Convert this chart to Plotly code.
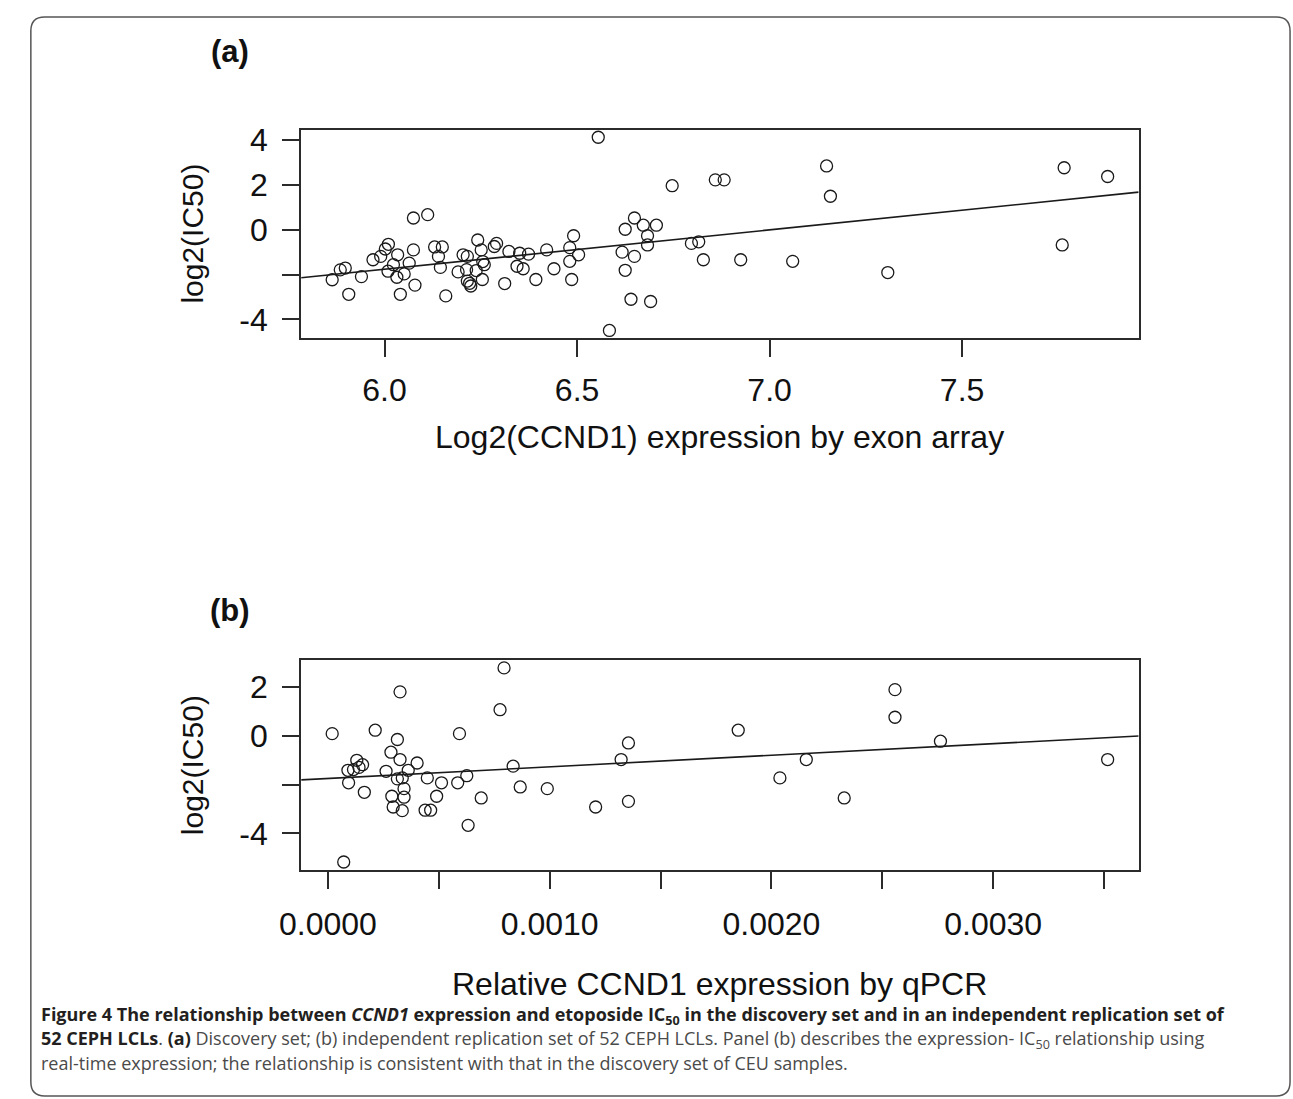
import numpy as np
import plotly.graph_objects as go

W, H = 1293, 1099

# ---------------- Data ----------------
# Panel (a): discovery set, Log2(CCND1) exon-array expression vs log2(IC50)
exon_expr = [6.555, 6.075, 6.112, 6.010, 6.002, 5.970, 5.990, 6.034, 6.023, 6.009,
             6.032, 6.051, 6.064, 6.075, 6.079, 6.041, 5.885, 5.898, 5.864, 5.907,
             5.940, 6.130, 6.150, 6.140, 6.145, 6.159, 6.191, 6.204, 6.215, 6.213,
             6.215, 6.224, 6.238, 6.242, 6.251, 6.259, 6.254, 6.285, 6.291, 6.312,
             6.323, 6.344, 6.351, 6.360, 6.374, 6.393, 6.421, 6.440, 6.481, 6.491,
             6.504, 6.481, 6.486, 6.584, 6.649, 6.625, 6.672, 6.706, 6.683, 6.683,
             6.617, 6.649, 6.625, 6.640, 6.691, 6.747, 6.859, 6.882, 7.148, 7.158,
             6.797, 6.816, 6.828, 6.925, 7.060, 7.765, 7.878, 7.760, 7.307, 6.255,
             6.221]
exon_ic50 = [4.12, 0.52, 0.67, -0.65, -0.86, -1.34, -1.19, -1.12, -1.56, -1.85,
             -2.12, -1.97, -1.49, -0.90, -2.47, -2.88, -1.79, -1.71, -2.23, -2.88,
             -2.09, -0.77, -0.77, -1.19, -1.68, -2.95, -1.88, -1.12, -1.19, -1.78,
             -2.29, -2.51, -1.82, -0.46, -0.90, -1.56, -2.22, -0.75, -0.61, -2.40,
             -0.97, -1.63, -1.05, -1.74, -1.09, -2.22, -0.90, -1.74, -0.80, -0.27,
             -1.12, -1.41, -2.22, -4.49, 0.52, 0.02, 0.20, 0.20, -0.27, -0.68,
             -1.00, -1.19, -1.81, -3.10, -3.20, 1.96, 2.22, 2.22, 2.84, 1.49,
             -0.61, -0.54, -1.34, -1.34, -1.41, 2.76, 2.37, -0.68, -1.91, -1.42,
             -2.39]

# Panel (b): replication set, relative CCND1 qPCR expression vs log2(IC50)
qpcr_expr = [0.000794, 0.000325, 0.000776, 0.000019, 0.000213, 0.000593, 0.000313,
             0.000284, 0.000325, 0.000402, 0.000362, 0.000130, 0.000156, 0.000115,
             0.000090, 0.000140, 0.000262, 0.000313, 0.000335, 0.000448, 0.000093,
             0.000164, 0.000343, 0.000288, 0.000343, 0.000294, 0.000335, 0.000438,
             0.000463, 0.000490, 0.000512, 0.000585, 0.000626, 0.000691, 0.000632,
             0.000071, 0.000835, 0.000867, 0.000989, 0.001207, 0.001355, 0.001322,
             0.001355, 0.001850, 0.002038, 0.002157, 0.002328, 0.002557, 0.002557,
             0.002762, 0.003516]
qpcr_ic50 = [2.77, 1.79, 1.06, 0.08, 0.22, 0.08, -0.16,
             -0.68, -0.98, -1.12, -1.42, -1.01, -1.19, -1.39,
             -1.42, -1.30, -1.46, -1.77, -1.73, -1.73, -1.93,
             -2.32, -2.17, -2.48, -2.52, -2.92, -3.07, -3.05,
             -3.05, -2.48, -1.93, -1.93, -1.64, -2.55, -3.67,
             -5.17, -1.25, -2.10, -2.17, -2.92, -0.30, -0.98,
             -2.69, 0.22, -1.73, -0.98, -2.55, 1.88, 0.75,
             -0.23, -0.98]

a_xticks = [6.0, 6.5, 7.0, 7.5]
a_xticklabels = ["6.0", "6.5", "7.0", "7.5"]
a_yticks = [-4, -2, 0, 2, 4]
a_yticklabels = ["-4", "", "0", "2", "4"]
b_xticks = [0.0, 0.0005, 0.0010, 0.0015, 0.0020, 0.0025, 0.0030, 0.0035]
b_xticklabels = ["0.0000", "", "0.0010", "", "0.0020", "", "0.0030", ""]
b_yticks = [-4, -2, 0, 2]
b_yticklabels = ["-4", "", "0", "2"]

panel_labels = ["(a)", "(b)"]
y_title = "log2(IC50)"
x_title_a = "Log2(CCND1) expression by exon array"
x_title_b = "Relative CCND1 expression by qPCR"

BOLD_COL = "#231f20"
REG_COL = "#4a4a4a"
caption_lines = [
    "<span style='color:%s'><b>Figure 4 The relationship between <i>CCND1</i> expression and etoposide "
    "IC<sub>50</sub> in the discovery set and in an independent replication set of</b></span>" % BOLD_COL,
    "<span style='color:%s'><b>52 CEPH LCLs</b></span>. <span style='color:%s'><b>(a)</b></span> "
    "Discovery set; (b) independent replication set of 52 CEPH LCLs. "
    "Panel (b) describes the expression- IC<sub>50</sub> relationship using" % (BOLD_COL, BOLD_COL),
    "real-time expression; the relationship is consistent with that in the discovery set of CEU samples.",
]

# ---------------- Helpers ----------------
def px(x):
    return x / W

def py(y):
    return 1 - y / H

def r_range(v):
    lo, hi = min(v), max(v)
    s = hi - lo
    return [lo - 0.04 * s, hi + 0.04 * s]

PLOT_FONT = "Liberation Sans, Arial, Helvetica, sans-serif"
CAP_FONT = "Open Sans, Lato, sans-serif"
INK = "#1a1a1a"
AXCOL = "#2b2b2b"

fig = go.Figure()

panels = [
    dict(x=exon_expr, y=exon_ic50, xa="x", ya="y"),
    dict(x=qpcr_expr, y=qpcr_ic50, xa="x2", ya="y2"),
]

for p in panels:
    fig.add_trace(go.Scatter(
        x=p["x"], y=p["y"], mode="markers", xaxis=p["xa"], yaxis=p["ya"],
        marker=dict(symbol="circle-open", size=12, color=INK, line=dict(width=1.3, color=INK)),
        showlegend=False, hoverinfo="skip"))
    xr = r_range(p["x"])
    slope, intercept = np.polyfit(p["x"], p["y"], 1)
    lx = np.array(xr)
    fig.add_trace(go.Scatter(
        x=lx, y=slope * lx + intercept, mode="lines", xaxis=p["xa"], yaxis=p["ya"],
        line=dict(color=INK, width=1.6), showlegend=False, hoverinfo="skip"))

x_dom = [px(284), px(1136)]
ya_dom = [py(333.3), py(123.3)]
yb_dom = [py(868.3), py(657.3)]

common = dict(showline=True, mirror=True, linecolor=AXCOL, linewidth=2,
              ticks="outside", ticklen=17, tickwidth=1.6, tickcolor=AXCOL,
              showgrid=False, zeroline=False,
              tickfont=dict(family=PLOT_FONT, size=32, color="#111111"))

fig.update_layout(
    width=W, height=H, margin=dict(l=0, r=0, t=0, b=0),
    paper_bgcolor="white", plot_bgcolor="white",
    xaxis=dict(domain=x_dom, anchor="y", range=r_range(exon_expr),
               tickvals=a_xticks, ticktext=a_xticklabels, ticklabelstandoff=5, **common),
    yaxis=dict(domain=ya_dom, anchor="x", range=r_range(exon_ic50),
               tickvals=a_yticks, ticktext=a_yticklabels, ticklabelstandoff=8, **common),
    xaxis2=dict(domain=x_dom, anchor="y2", range=r_range(qpcr_expr),
                tickvals=b_xticks, ticktext=b_xticklabels, ticklabelstandoff=8, **common),
    yaxis2=dict(domain=yb_dom, anchor="x2", range=r_range(qpcr_ic50),
                tickvals=b_yticks, ticktext=b_yticklabels, ticklabelstandoff=8, **common),
)

ann = []
# panel labels
for lab, yc in zip(panel_labels, [45, 607]):
    ann.append(dict(text="<b>%s</b>" % lab, x=px(212), y=py(yc), xref="paper", yref="paper",
                    xanchor="center", yanchor="middle", showarrow=False,
                    font=dict(family=PLOT_FONT, size=31, color="#111111")))
# y titles
for yc in [228, 763]:
    ann.append(dict(text=y_title, x=px(173), y=py(yc), xref="paper", yref="paper",
                    xanchor="center", yanchor="middle", textangle=-90, showarrow=False,
                    font=dict(family=PLOT_FONT, size=30, color="#111111")))
# x titles
for t, yc in [(x_title_a, 433), (x_title_b, 983)]:
    ann.append(dict(text=t, x=px(710), y=py(yc), xref="paper", yref="paper",
                    xanchor="center", yanchor="middle", showarrow=False,
                    font=dict(family=PLOT_FONT, size=32, color="#111111")))
# caption
for t, yc in zip(caption_lines, [1015, 1039, 1063]):
    ann.append(dict(text=t, x=px(17), y=py(yc), xref="paper", yref="paper",
                    xanchor="left", yanchor="middle", showarrow=False, align="left",
                    font=dict(family=CAP_FONT, size=18, color=REG_COL)))
fig.update_layout(annotations=ann)

# outer rounded frame
L, T, R, B, rad = 9, 10, 1290, 1096, 14
path = ("M {a},{b} L {c},{b} Q {d},{b} {d},{e} L {d},{f} Q {d},{g} {c},{g} "
        "L {a},{g} Q {h},{g} {h},{f} L {h},{e} Q {h},{b} {a},{b} Z").format(
    a=px(L + rad), b=py(T), c=px(R - rad), d=px(R), e=py(T + rad),
    f=py(B - rad), g=py(B), h=px(L))
fig.add_shape(type="path", path=path, xref="paper", yref="paper",
              line=dict(color="#555555", width=1.5), layer="below")

fig.write_html("out.html")
